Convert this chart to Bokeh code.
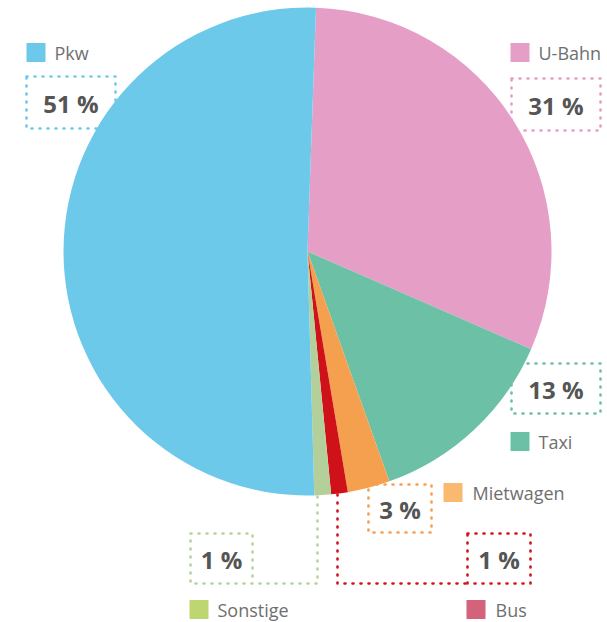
import math
from bokeh.plotting import figure
from bokeh.models import Range1d, ColumnDataSource
from bokeh.core.properties import value
from bokeh.embed import file_html
from bokeh.resources import INLINE

# ---- data (clockwise from the top) ----
categories = ["U-Bahn", "Taxi", "Mietwagen", "Bus", "Sonstige", "Pkw"]
shares = [31.0, 13.0, 2.8, 1.1, 1.1, 51.0]
pct_labels = ["31 %", "13 %", "3 %", "1 %", "1 %", "51 %"]

slice_colors = ["#E59EC6", "#6BC0A6", "#F5A04F", "#CF1219", "#B3D09B", "#6DC9EA"]
legend_colors = ["#E59EC6", "#6BC0A6", "#F9B96E", "#D3637A", "#BDD672", "#6DC9EA"]
box_colors = ["#E59EC6", "#6BC0A6", "#F5A04F", "#D0141B", "#B7D39B", "#6DC9EA"]

# ---- layout (page pixel positions) ----
START_DEG = 2.0
CX, CY, R = 307, 251, 244
legend_pos = [(510, 52, 538), (510, 441, 538), (443, 492, 472),
              (466, 609, 495), (189, 609, 217), (26, 52, 54)]
box_pos = [(511, 78, 600, 130), (511, 363, 600, 413), (368, 484, 431, 532),
           (467, 533, 530, 583), (190, 533, 252, 583), (26, 76, 115, 128)]
conn_pts = {3: [(337, 494), (337, 583), (467, 583)],
            4: [(317, 496), (317, 583), (252, 583)]}

W, H = 607, 622


def fy(y):
    return H - y


p = figure(width=W, height=H, x_range=Range1d(0, W), y_range=Range1d(0, H),
           output_backend="svg", toolbar_location=None, min_border=0,
           x_axis_location=None, y_axis_location=None)
p.grid.visible = False
p.outline_line_color = None
p.background_fill_color = "white"

# wedges
starts, ends = [], []
cum = 0.0
for s in shares:
    t0 = START_DEG + 3.6 * cum
    t1 = t0 + 3.6 * s
    starts.append(math.radians(90 - t1))
    ends.append(math.radians(90 - t0))
    cum += s
wsrc = ColumnDataSource(dict(start=starts, end=ends, color=slice_colors))
p.wedge(x=CX, y=fy(CY), radius=R, radius_units="screen", start_angle="start",
        end_angle="end", fill_color="color", line_color=None, source=wsrc)

# legend squares and names
lsrc = ColumnDataSource(dict(
    sx=[lp[0] + 9.5 for lp in legend_pos], sy=[fy(lp[1]) for lp in legend_pos],
    tx=[lp[2] for lp in legend_pos], ty=[fy(lp[1]) for lp in legend_pos],
    name=categories, color=legend_colors))
p.rect(x="sx", y="sy", width=19, height=19, width_units="screen", height_units="screen",
       fill_color="color", line_color=None, source=lsrc)
p.text(x="tx", y="ty", text="name", source=lsrc, text_font=value("Open Sans"),
       text_font_size="18px", text_baseline="middle", text_align="left", text_color="#6f6f6f")

# dotted boxes
bsrc = ColumnDataSource(dict(
    left=[b[0] for b in box_pos], right=[b[2] for b in box_pos],
    top=[fy(b[1]) for b in box_pos], bottom=[fy(b[3]) for b in box_pos],
    tx=[(b[0] + b[2]) / 2 for b in box_pos], ty=[fy((b[1] + b[3]) / 2 + 1) for b in box_pos],
    label=pct_labels, color=box_colors))
p.quad(left="left", right="right", top="top", bottom="bottom", fill_color=None,
       line_color="color", line_width=2.6, line_dash="1 7", line_cap="round", source=bsrc)
p.text(x="tx", y="ty", text="label", source=bsrc, text_font=value("Open Sans"),
       text_font_size="24px", text_font_style="bold", text_baseline="middle",
       text_align="center", text_color="#555555")

# connectors
cx_list, cy_list, cc = [], [], []
for i, pts in conn_pts.items():
    cx_list.append([q[0] for q in pts])
    cy_list.append([fy(q[1]) for q in pts])
    cc.append(box_colors[i])
p.multi_line(xs=cx_list, ys=cy_list, line_color=cc, line_width=2.6, line_dash="1 7",
             line_cap="round")

open("out.html", "w").write(file_html(p, INLINE))
